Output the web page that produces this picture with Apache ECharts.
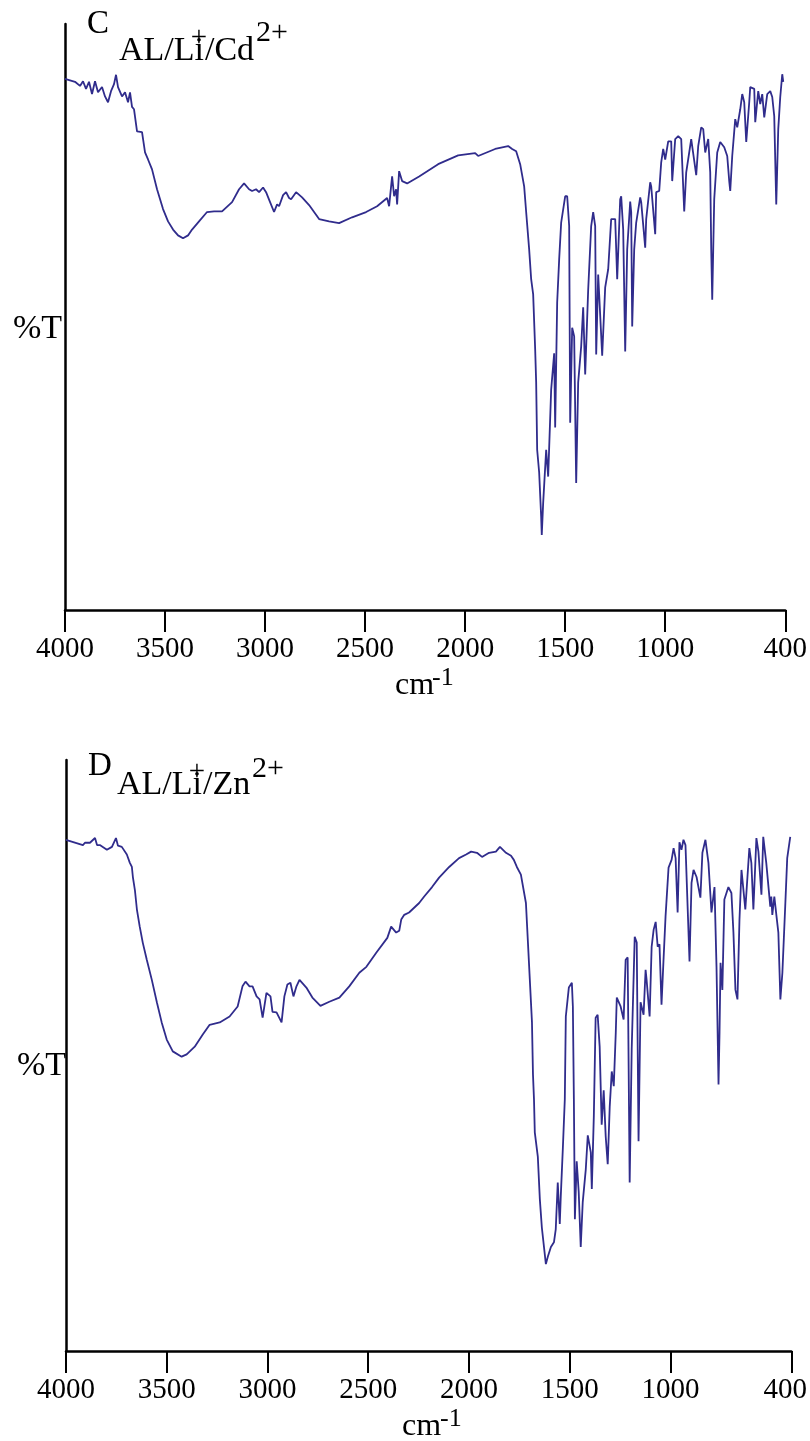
<!DOCTYPE html>
<html>
<head>
<meta charset="utf-8">
<script src="https://cdn.jsdelivr.net/npm/echarts@6/dist/echarts.min.js"></script>
<style>
html,body{margin:0;padding:0;background:#fff;}
#chart{width:810px;height:1441px;}
</style>
</head>
<body>
<div id="chart"></div>
<script>
// Wavenumber tick labels (cm-1)
const tickValues = [4000, 3500, 3000, 2500, 2000, 1500, 1000, 400];

// Spectrum C : AL/Li+/Cd2+  ([wavenumber, %T])
const spectrumC = [
[4000,90.6],[3950,90.1],[3925,89.4],[3910,90.2],[3895,88.9],[3880,90.1],[3865,88.0],[3850,90.2],[3835,88.3],[3815,89.2],
[3800,87.6],[3785,86.6],[3770,88.5],[3755,89.7],[3745,91.3],[3735,89.2],[3715,87.6],[3700,88.3],[3685,86.6],[3675,88.3],
[3665,85.8],[3655,85.4],[3640,81.6],[3615,81.5],[3600,78.0],[3585,76.8],[3565,75.1],[3540,71.7],[3510,68.3],[3485,66.2],
[3460,64.8],[3435,63.8],[3410,63.3],[3385,63.8],[3365,64.8],[3330,66.2],[3290,67.8],[3255,67.9],[3215,67.9],[3165,69.5],
[3130,71.7],[3105,72.7],[3080,71.7],[3065,71.4],[3045,71.7],[3030,71.2],[3010,72.0],[2995,71.2],[2975,69.5],[2955,67.8],
[2940,69.1],[2930,68.8],[2910,70.7],[2895,71.2],[2880,70.2],[2870,70.0],[2845,71.2],[2815,70.3],[2780,69.0],[2730,66.6],
[2680,66.2],[2630,65.9],[2565,66.9],[2495,67.8],[2440,68.8],[2390,70.2],[2380,68.8],[2365,73.9],[2355,70.5],[2345,71.7],
[2340,69.1],[2330,74.8],[2315,73.1],[2290,72.7],[2230,73.9],[2135,76.0],[2035,77.5],[1950,77.9],[1935,77.4],[1850,78.6],
[1785,79.1],[1765,78.6],[1745,78.2],[1725,76.0],[1705,72.2],[1695,67.8],[1680,61.4],[1670,56.3],[1660,53.7],[1650,44.3],
[1645,38.6],[1640,27.1],[1630,23.2],[1620,15.6],[1617,12.5],[1610,18.0],[1595,27.1],[1585,22.5],[1570,37.4],[1555,43.6],
[1550,30.9],[1540,52.3],[1530,59.7],[1520,66.0],[1500,70.5],[1490,70.5],[1480,65.4],[1475,31.7],[1465,48.0],[1455,46.5],
[1445,21.4],[1435,38.6],[1420,44.8],[1410,51.5],[1400,40.0],[1385,54.5],[1370,65.4],[1360,67.8],[1350,65.4],[1345,43.4],
[1335,57.1],[1315,43.2],[1300,54.9],[1285,58.0],[1270,66.6],[1250,66.6],[1240,56.3],[1225,70.0],[1220,70.5],[1210,64.8],
[1200,43.9],[1190,61.4],[1175,69.6],[1170,67.8],[1165,48.2],[1155,61.4],[1145,66.0],[1125,70.3],[1120,69.5],[1100,61.7],
[1095,66.6],[1075,72.9],[1070,72.2],[1050,64.0],[1045,71.2],[1030,71.4],[1020,76.3],[1010,78.6],[1000,76.8],[985,79.9],
[970,79.9],[965,73.1],[950,80.3],[935,80.8],[920,80.3],[905,67.9],[895,74.6],[870,80.3],[845,74.1],[835,79.1],
[820,82.3],[810,82.0],[800,78.0],[785,80.3],[775,74.6],[770,61.4],[765,52.8],[760,61.4],[755,70.0],[740,78.0],
[725,79.8],[705,78.9],[690,77.4],[680,73.1],[675,71.4],[665,77.4],[650,83.7],[640,82.3],[625,85.4],[615,88.0],
[605,86.6],[595,79.8],[580,86.6],[575,89.2],[555,88.9],[550,83.2],[535,88.5],[525,86.3],[515,88.0],[505,84.0],
[490,88.0],[475,88.5],[465,87.5],[455,84.2],[445,69.1],[435,82.0],[425,87.5],[415,91.4],[410,90.1]
];

// Spectrum D : AL/Li+/Zn2+  ([wavenumber, %T])
const spectrumD = [
[4000,86.5],[3916,85.6],[3906,86.0],[3881,86.0],[3856,86.8],[3846,85.6],[3832,85.6],[3797,84.8],[3772,85.3],[3752,86.8],
[3742,85.5],[3723,85.3],[3698,84.0],[3683,82.6],[3673,81.9],[3668,80.2],[3658,78.0],[3648,74.7],[3634,71.8],[3619,69.1],
[3599,66.2],[3574,62.8],[3549,59.0],[3525,55.6],[3500,52.7],[3470,50.7],[3426,49.8],[3401,50.2],[3361,51.5],[3322,53.5],
[3287,55.2],[3237,55.6],[3188,56.6],[3148,58.3],[3124,61.7],[3109,62.5],[3089,61.7],[3074,61.7],[3054,60.0],[3039,59.5],
[3024,56.4],[3005,60.6],[2985,60.0],[2975,57.4],[2955,57.3],[2930,55.6],[2916,60.0],[2901,62.0],[2886,62.3],[2871,60.0],
[2856,61.7],[2841,62.8],[2807,61.5],[2777,59.8],[2737,58.4],[2693,59.1],[2643,59.8],[2594,61.7],[2544,64.0],[2509,65.0],
[2460,67.4],[2405,69.9],[2386,71.8],[2361,70.8],[2346,71.1],[2336,73.0],[2321,73.8],[2297,74.2],[2247,75.8],[2222,76.9],
[2183,78.5],[2148,80.1],[2098,81.9],[2049,83.4],[2014,84.0],[1989,84.5],[1960,84.3],[1935,83.6],[1900,84.3],[1866,84.5],
[1846,85.3],[1816,84.3],[1791,83.8],[1777,83.1],[1762,81.9],[1742,80.6],[1717,75.8],[1707,69.1],[1687,55.6],[1682,46.8],
[1677,42.6],[1673,37.0],[1658,32.9],[1648,25.7],[1638,20.9],[1633,20.6],[1618,14.7],[1608,16.0],[1593,17.6],[1578,18.4],
[1569,20.6],[1559,28.5],[1549,21.5],[1544,26.2],[1534,34.1],[1524,42.6],[1519,56.6],[1504,61.5],[1489,62.3],[1484,58.3],
[1479,42.6],[1474,22.3],[1465,32.1],[1455,26.9],[1445,17.6],[1435,25.2],[1420,30.7],[1410,36.5],[1395,33.6],[1390,27.4],
[1380,39.7],[1371,56.4],[1361,56.9],[1351,51.5],[1341,38.3],[1331,44.1],[1321,36.3],[1311,31.6],[1301,41.4],[1291,47.3],
[1281,44.8],[1271,53.9],[1266,59.8],[1247,58.3],[1232,56.1],[1222,66.2],[1212,66.6],[1202,28.5],[1192,51.0],[1177,70.1],
[1167,69.1],[1158,35.5],[1148,59.0],[1133,56.9],[1123,64.5],[1118,62.8],[1103,56.6],[1093,68.4],[1083,71.3],[1073,72.6],
[1063,68.4],[1054,68.8],[1044,58.6],[1034,66.2],[1024,73.5],[1009,81.8],[994,83.1],[984,85.1],[974,83.4],[964,74.2],
[955,86.1],[945,84.8],[935,86.5],[925,85.6],[905,65.9],[895,79.2],[885,81.4],[870,80.2],[851,76.7],[841,84.3],
[826,86.5],[811,82.6],[796,74.2],[781,78.5],[771,65.0],[761,45.1],[756,53.9],[751,65.7],[742,61.1],[732,76.4],
[712,78.5],[697,77.5],[687,70.8],[677,61.1],[667,59.5],[657,73.0],[647,81.4],[628,74.7],[608,85.1],[598,82.6],
[588,74.7],[573,86.8],[563,84.5],[548,77.2],[539,87.0],[524,82.6],[504,75.2],[499,76.9],[494,73.8],[484,76.9],
[474,73.8],[464,70.8],[454,59.5],[444,64.0],[430,75.2],[420,83.4],[405,87.0]
];

const lineColor = '#302c8c';
const serif = '"Liberation Serif", "Times New Roman", serif';

function xAxisCfg(gridIndex, shiftLast) {
  return {
    type: 'value', gridIndex: gridIndex, inverse: true, min: 400, max: 4000,
    splitLine: {show: false},
    axisLine: {show: true, onZero: false, lineStyle: {color: '#000', width: 2.5}},
    axisTick: {show: true, inside: false, length: 22, customValues: tickValues, lineStyle: {color: '#000', width: 2}},
    axisLabel: {
      show: true, customValues: tickValues, margin: 25, color: '#000', fontFamily: serif, fontSize: 29,
      formatter: function (v) { return (shiftLast && v === 400) ? '{r|400}' : String(v); },
      rich: {r: {fontFamily: serif, fontSize: 29, color: '#000', padding: [0, 12, 0, 0]}}
    }
  };
}
function yAxisCfg(gridIndex, min) {
  return {
    type: 'value', gridIndex: gridIndex, min: min, max: 100,
    splitLine: {show: false}, axisTick: {show: false}, axisLabel: {show: false},
    axisLine: {show: true, lineStyle: {color: '#000', width: 2.5}}
  };
}
function txt(text, x, y, size, align) {
  return {type: 'text', x: x, y: y, silent: true,
    style: {text: text, fill: '#000', font: size + 'px ' + serif, align: align || 'left', verticalAlign: 'middle'}};
}

const chart = echarts.init(document.getElementById('chart'), null, {renderer: 'canvas'});
chart.setOption({
  animation: false,
  backgroundColor: '#fff',
  grid: [
    {left: 65, right: 22, top: 24, height: 586},
    {left: 66, right: 17, top: 760, height: 591}
  ],
  xAxis: [xAxisCfg(0, false), xAxisCfg(1, true)],
  yAxis: [yAxisCfg(0, -0.35), yAxisCfg(1, 0)],
  series: [
    {type: 'line', xAxisIndex: 0, yAxisIndex: 0, data: spectrumC, showSymbol: false, symbol: 'none',
     lineStyle: {color: lineColor, width: 1.8}, silent: true},
    {type: 'line', xAxisIndex: 1, yAxisIndex: 1, data: spectrumD, showSymbol: false, symbol: 'none',
     lineStyle: {color: lineColor, width: 1.8}, silent: true}
  ],
  graphic: [
    txt('C', 87, 24, 33),
    txt('AL/Li', 119, 51, 34),
    txt('+', 199, 38.5, 29, 'center'),
    txt('/Cd', 205, 51, 34),
    txt('2+', 256, 33, 30),
    txt('%T', 62, 329, 34, 'right'),
    txt('cm', 395, 686, 32),
    txt('-1', 432, 678, 26),
    txt('D', 88, 766.5, 33),
    txt('AL/Li', 117, 785.5, 34),
    txt('+', 197, 772.5, 29, 'center'),
    txt('/Zn', 203, 785.5, 34),
    txt('2+', 252, 769, 30),
    txt('%T', 66, 1066, 34, 'right'),
    txt('cm', 402, 1427, 32),
    txt('-1', 440, 1419, 26)
  ]
});
</script>
</body>
</html>
